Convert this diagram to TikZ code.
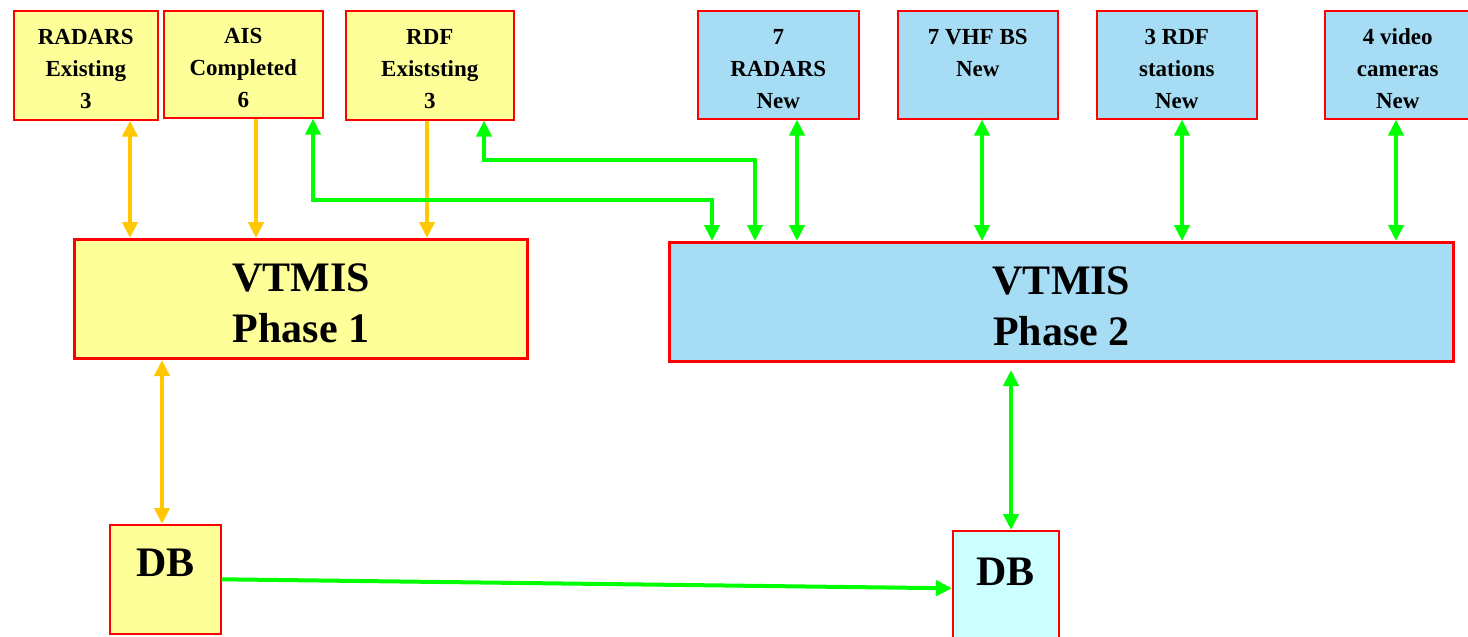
\documentclass[tikz,border=0pt]{standalone}
\usepackage{fontspec}
\setmainfont{Liberation Serif}
\usetikzlibrary{arrows.meta}
\definecolor{yel}{HTML}{FFFF99}
\definecolor{blu}{HTML}{A6DDF5}
\definecolor{cya}{HTML}{CCFFFF}
\definecolor{grn}{HTML}{00FF00}
\definecolor{org}{HTML}{FFC800}
\newcommand\smallfnt{\fontsize{23}{32}\selectfont\bfseries}
\newcommand\bigfnt{\fontsize{42}{51}\selectfont\bfseries}
\newcommand\stk[2]{\raisebox{#1}[\height][\depth]{\begin{tabular}{@{}c@{}}#2\end{tabular}}}
\tikzset{
  box/.style={draw=red, line width=1.6pt, inner sep=0pt, anchor=north west},
  sbox/.style={box, font=\smallfnt},
  bbox/.style={box, font=\bigfnt, line width=3pt},
  dbbox/.style={box, font=\bigfnt, line width=1.6pt, text height=27pt, text depth=32pt},
  tip/.style={arrows={-Triangle[width=15pt,length=16pt]}},
  tipb/.style={arrows={Triangle[width=15pt,length=16pt]-Triangle[width=15pt,length=16pt]}},
  oarr/.style={draw=org, line width=4pt},
  garr/.style={draw=grn, line width=4pt},
}
\begin{document}
\begin{tikzpicture}[x=1pt,y=-1pt]
\useasboundingbox (0,0) rectangle (1468,637);
% top boxes
\node[sbox, fill=yel, minimum width=144, minimum height=109] (radE) at (13,10) {\stk{-5pt}{RADARS\\Existing\\3}};
\node[sbox, fill=yel, minimum width=159, minimum height=107] (aisC) at (163,10) {\stk{-5pt}{AIS\\Completed\\6}};
\node[sbox, fill=yel, minimum width=168, minimum height=109] (rdfE) at (345,10) {\stk{-5pt}{RDF\\Existsting\\3}};
\node[sbox, fill=blu, minimum width=161, minimum height=108] (rad7) at (697,10) {\stk{-5pt}{7\\RADARS\\New}};
\node[sbox, fill=blu, minimum width=160, minimum height=108] (vhf) at (897,10) {\stk{-5pt}{7 VHF BS\\New\\\phantom{X}}};
\node[sbox, fill=blu, minimum width=160, minimum height=108] (rdf3) at (1096,10) {\stk{-5pt}{3 RDF\\stations\\New}};
\node[sbox, fill=blu, minimum width=146, minimum height=108] (vid) at (1324,10) {\stk{-5pt}{4 video\\cameras\\New}};
% main boxes
\node[bbox, fill=yel, minimum width=453, minimum height=119] (ph1) at (73,238) {\stk{-8pt}{VTMIS\\Phase 1}};
\node[bbox, fill=blu, minimum width=784, minimum height=119] (ph2) at (668,241) {\stk{-8pt}{VTMIS\\Phase 2}};
% DB boxes
\node[dbbox, fill=yel, minimum width=111, minimum height=109] (db1) at (109,524) {DB};
\node[dbbox, fill=cya, minimum width=106, minimum height=115] (db2) at (952,530) {DB};
% helper coordinates
\coordinate (xA) at (130,0);
\coordinate (xB) at (256,0);
\coordinate (xC) at (427,0);
\coordinate (xD) at (313,0);
\coordinate (xE) at (712,0);
\coordinate (xF) at (484,0);
\coordinate (xG) at (755,0);
\coordinate (xH) at (797,0);
\coordinate (xI) at (982,0);
\coordinate (xJ) at (1182,0);
\coordinate (xK) at (1396,0);
\coordinate (xL) at (162,0);
\coordinate (xM) at (1011,0);
\coordinate (yD) at (0,200);
\coordinate (yF) at (0,160);
% orange connectors
\draw[oarr, tipb] (radE.south -| xA) -- (ph1.north -| xA);
\draw[oarr, tip] (aisC.south -| xB) -- (ph1.north -| xB);
\draw[oarr, tip] (rdfE.south -| xC) -- (ph1.north -| xC);
\draw[oarr, tipb] (ph1.south -| xL) -- (db1.north -| xL);
% green connectors
\draw[garr, tipb, line join=miter] (aisC.south -| xD) -- (xD |- yD) -- (xE |- yD) -- (ph2.north -| xE);
\draw[garr, tipb, line join=miter] (rdfE.south -| xF) -- (xF |- yF) -- (xG |- yF) -- (ph2.north -| xG);
\draw[garr, tipb] (rad7.south -| xH) -- (ph2.north -| xH);
\draw[garr, tipb] (vhf.south -| xI) -- (ph2.north -| xI);
\draw[garr, tipb] (rdf3.south -| xJ) -- (ph2.north -| xJ);
\draw[garr, tipb] (vid.south -| xK) -- (ph2.north -| xK);
\draw[garr, tipb, shorten <=7pt] (ph2.south -| xM) -- (db2.north -| xM);
\draw[garr, tip] (db1.east) -- (db2.west);
\end{tikzpicture}
\end{document}
